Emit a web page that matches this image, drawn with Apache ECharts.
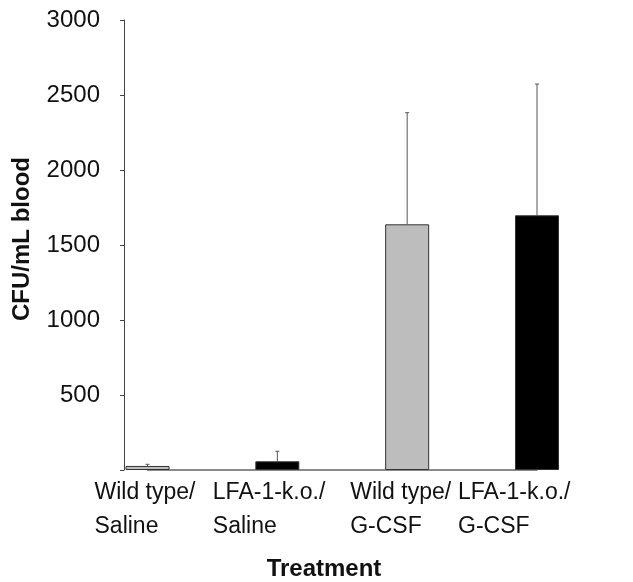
<!DOCTYPE html>
<html>
<head>
<meta charset="utf-8">
<script src="https://cdn.jsdelivr.net/npm/echarts@6/dist/echarts.min.js"></script>
<style>html,body{margin:0;padding:0;background:#fff}#c{width:633px;height:582px}</style>
</head>
<body>
<div id="c"></div>
<script>
const categories = [['Wild type/', 'Saline'], ['LFA-1-k.o./', 'Saline'], ['Wild type/', 'G-CSF'], ['LFA-1-k.o./', 'G-CSF']];
const means = [27, 58, 1638, 1698];
const errors = [11, 67, 744, 875];
const barColors = ['#bdbdbd', '#000000', '#bdbdbd', '#000000'];
const yTicks = [0, 500, 1000, 1500, 2000, 2500, 3000];
const labelWidths = [106, 129, 114, 158];

const FONT = "'Liberation Sans', Arial, sans-serif";
const chart = echarts.init(document.getElementById('c'), null, {renderer: 'canvas'});
const rich = {};
labelWidths.forEach((w, i) => { rich['l' + i] = {width: w, align: 'left', fontSize: 23, lineHeight: 34, color: '#111', fontFamily: FONT}; });

chart.setOption({
  animation: false,
  backgroundColor: '#fff',
  title: {
    text: 'Treatment', left: 319, textAlign: 'center', top: 552,
    textStyle: {fontFamily: FONT, fontSize: 24, fontWeight: 'bold', color: '#111'}
  },
  grid: {left: 147.5, right: 96, top: 20, bottom: 112, containLabel: false},
  xAxis: {
    type: 'category',
    data: categories.map(c => c.join('\n')),
    boundaryGap: false,
    axisLine: {show: true, lineStyle: {color: '#666', width: 1.5}},
    axisTick: {show: false},
    axisLabel: {
      interval: 0, margin: 6,
      formatter: (v, i) => v.split('\n').map(s => '{l' + i + '|' + s + '}').join('\n'),
      rich: rich
    },
    splitLine: {show: false}
  },
  yAxis: {
    type: 'value', min: yTicks[0], max: yTicks[yTicks.length - 1], interval: 500,
    offset: 23.5,
    name: 'CFU/mL blood', nameLocation: 'middle', nameGap: 90,
    nameTextStyle: {fontFamily: FONT, fontSize: 24, fontWeight: 'bold', color: '#111', padding: [0, 0, 0, 12]},
    axisLine: {show: true, lineStyle: {color: '#444', width: 1}},
    axisTick: {show: true, length: 4, lineStyle: {color: '#444'}},
    axisLabel: {
      margin: 24, fontFamily: FONT, fontSize: 24, color: '#111',
      formatter: v => (v === 0 ? '' : String(v))
    },
    splitLine: {show: false}
  },
  series: [
    {
      type: 'bar',
      barWidth: 44,
      data: means.map((m, i) => ({value: m, itemStyle: {color: barColors[i], borderColor: '#333', borderWidth: 1}})),
      z: 2
    },
    {
      type: 'custom',
      data: means.map((m, i) => [i, m, m + errors[i]]),
      renderItem: (params, api) => {
        const x = api.value(0);
        const p0 = api.coord([x, api.value(1)]);
        const p1 = api.coord([x, api.value(2)]);
        return {
          type: 'group',
          children: [
            {type: 'line', shape: {x1: p0[0], y1: p0[1], x2: p1[0], y2: p1[1]}, style: {stroke: '#555', lineWidth: 1}},
            {type: 'line', shape: {x1: p1[0] - 2, y1: p1[1], x2: p1[0] + 2, y2: p1[1]}, style: {stroke: '#555', lineWidth: 1}}
          ]
        };
      },
      z: 3
    }
  ]
});
</script>
</body>
</html>
